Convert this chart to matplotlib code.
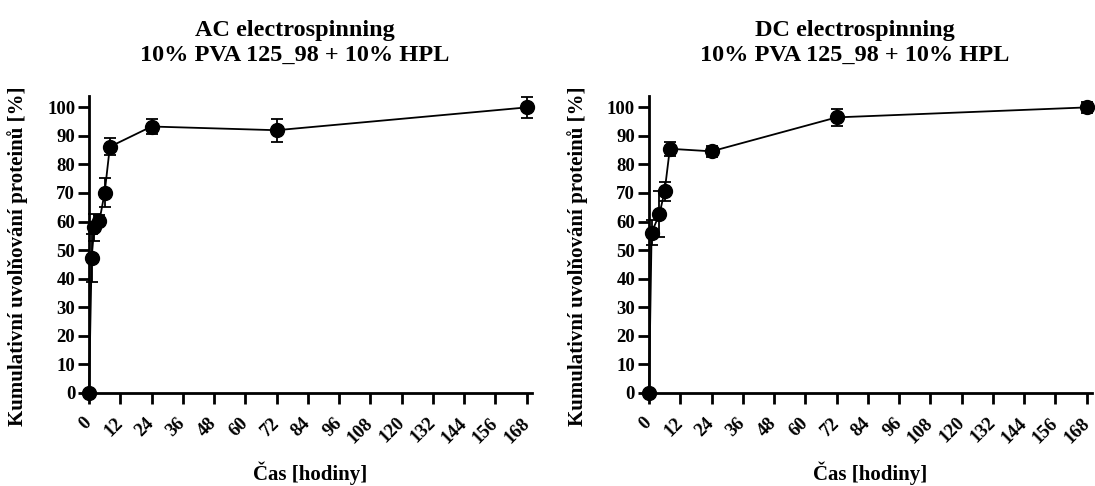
import matplotlib.pyplot as plt
import numpy as np

plt.rcParams['font.family'] = ['Liberation Serif', 'DejaVu Serif']
plt.rcParams['font.weight'] = 'bold'

# AC electrospinning
ac_cas = [0, 1, 2, 4, 6, 8, 24, 72, 168]
ac_uvol = [0, 47.2, 58.0, 60.3, 70.1, 86.2, 93.3, 92.0, 100.0]
ac_err = [0, 8.3, 4.7, 2.0, 5.0, 3.0, 2.5, 4.0, 3.7]

# DC electrospinning
dc_cas = [0, 1, 4, 6, 8, 24, 72, 168]
dc_uvol = [0, 56.1, 62.6, 70.6, 85.5, 84.6, 96.5, 100.0]
dc_err = [0, 4.3, 8.0, 3.3, 2.5, 2.0, 3.0, 2.0]

tituly = ['AC electrospinning\n10% PVA 125_98 + 10% HPL',
          'DC electrospinning\n10% PVA 125_98 + 10% HPL']
xticks = np.arange(0, 169, 12)
yticks = np.arange(0, 101, 10)

fig = plt.figure(figsize=(10.95, 4.86), dpi=100)
ax1 = fig.add_axes([0.0813, 0.1920, 0.4045, 0.6105])
ax2 = fig.add_axes([0.5927, 0.1920, 0.4045, 0.6105])

data = [(ac_cas, ac_uvol, ac_err), (dc_cas, dc_uvol, dc_err)]
for ax, (x, y, e), t in zip([ax1, ax2], data, tituly):
    ax.errorbar(x, y, yerr=e, color='black', lw=1.3, marker='o', ms=10,
                capsize=4.5, elinewidth=1.3, capthick=1.3, clip_on=False, zorder=3)
    ax.set_xlim(0, 170)
    ax.set_ylim(0, 104)
    ax.set_xticks(xticks)
    ax.set_yticks(yticks)
    ax.set_xticklabels([str(v) for v in xticks], rotation=45, ha='right',
                       va='center', rotation_mode='anchor', fontsize=13.5, fontweight='bold')
    ax.set_yticklabels([str(v) for v in yticks], fontsize=13.5, fontweight='bold')
    ax.spines['top'].set_visible(False)
    ax.spines['right'].set_visible(False)
    ax.spines['left'].set_linewidth(2)
    ax.spines['bottom'].set_linewidth(2)
    ax.tick_params(width=2, length=8, pad=2)
    ax.tick_params(axis='x', pad=12)
    ax.set_title(t, fontsize=17.5, fontweight='bold', pad=25, linespacing=1.25, x=0.464)
    ax.set_xlabel('Čas [hodiny]', fontsize=15, fontweight='bold', labelpad=11)
    ax.set_ylabel('Kumulativní uvolňování proteinů [%]', fontsize=15, fontweight='bold')
    ax.yaxis.set_label_coords(-0.138, 0.46)

plt.savefig('out.png', dpi=100)
